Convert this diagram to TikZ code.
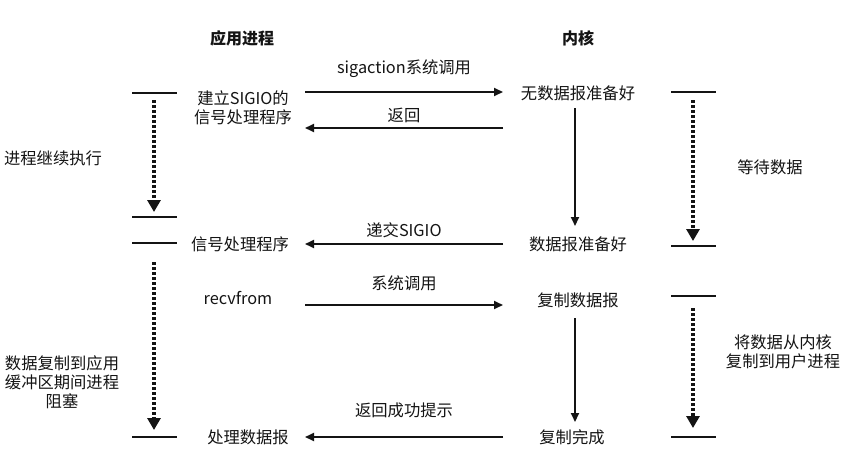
\documentclass[tikz,border=0pt]{standalone}
\usepackage{fontspec}
\setmainfont{Noto Sans CJK SC}
\usetikzlibrary{arrows.meta}
\definecolor{ink}{RGB}{20,20,20}
\tikzset{
  lbl/.style={font=\fontsize{16.3}{20}\selectfont, text=ink, inner sep=0pt, align=center},
  ttl/.style={font=\fontsize{16}{20}\selectfont\bfseries, text=ink, inner sep=0pt},
  msg/.style={draw=ink, line width=2pt, -{Triangle[length=9pt,width=8pt]}},
  wait/.style={draw=ink, line width=3.2pt, dash pattern=on 2.6pt off 2.4pt, -{Triangle[length=12pt,width=13pt]}},
  tick/.style={draw=ink, line width=2pt}
}
\begin{document}
\begin{tikzpicture}[x=1pt,y=-1pt]
\useasboundingbox[fill=white] (0,0) rectangle (849,471);
% titles
\node[ttl] (tapp) at (242,38) {应用进程};
\node[ttl] (tker) at (578,38) {内核};
% app column
\node[lbl] (setup) at (243,108) {建立SIGIO的\\[-1pt]信号处理程序};
\node[lbl] (sighand) at (240,244) {信号处理程序};
\node[lbl] (recv) at (238,298) {recvfrom};
\node[lbl] (proc) at (248,437) {处理数据报};
% kernel column
\node[lbl] (nodata) at (578,93) {无数据报准备好};
\node[lbl] (ready) at (578,244) {数据报准备好};
\node[lbl] (copy) at (578,300) {复制数据报};
\node[lbl] (done) at (572,437) {复制完成};
% side notes
\node[lbl] (cont) at (53,158) {进程继续执行};
\node[lbl] (block) at (62,382) {数据复制到应用\\[-1pt]缓冲区期间进程\\[-1pt]阻塞};
\node[lbl] (wait) at (770,167) {等待数据};
\node[lbl] (kcopy) at (783,352) {将数据从内核\\[-1pt]复制到用户进程};
% arrow endpoints
\coordinate (a1s) at (305,92);  \coordinate (a1e) at (503,92);
\coordinate (a2s) at (503,128); \coordinate (a2e) at (305,128);
\coordinate (a3s) at (503,244); \coordinate (a3e) at (305,244);
\coordinate (a4s) at (305,305); \coordinate (a4e) at (503,305);
\coordinate (a5s) at (503,437); \coordinate (a5e) at (305,437);
% messages
\draw[msg] (a1s) -- node[lbl, above=13pt] (l1) {sigaction系统调用} (a1e);
\draw[msg] (a2s) -- node[lbl, above=4pt] (l2) {返回} (a2e);
\draw[msg] (a3s) -- node[lbl, above=5pt] (l3) {递交SIGIO} (a3e);
\draw[msg] (a4s) -- node[lbl, above=13pt] (l4) {系统调用} (a4e);
\draw[msg] (a5s) -- node[lbl, above=18pt] (l5) {返回成功提示} (a5e);
% kernel internal arrows
\coordinate (k1s) at (575,108); \coordinate (k1e) at (575,226);
\coordinate (k2s) at (575,318); \coordinate (k2e) at (575,422);
\draw[msg] (k1s) -- (k1e);
\draw[msg] (k2s) -- (k2e);
% ticks left
\coordinate (tl1a) at (132,93);  \coordinate (tl1b) at (177,93);
\coordinate (tl2a) at (132,217); \coordinate (tl2b) at (177,217);
\coordinate (tl3a) at (132,243); \coordinate (tl3b) at (177,243);
\coordinate (tl4a) at (132,437); \coordinate (tl4b) at (177,437);
\draw[tick] (tl1a) -- (tl1b);
\draw[tick] (tl2a) -- (tl2b);
\draw[tick] (tl3a) -- (tl3b);
\draw[tick] (tl4a) -- (tl4b);
% ticks right
\coordinate (tr1a) at (671,92);  \coordinate (tr1b) at (716,92);
\coordinate (tr2a) at (671,246); \coordinate (tr2b) at (716,246);
\coordinate (tr3a) at (671,296); \coordinate (tr3b) at (716,296);
\coordinate (tr4a) at (671,437); \coordinate (tr4b) at (716,437);
\draw[tick] (tr1a) -- (tr1b);
\draw[tick] (tr2a) -- (tr2b);
\draw[tick] (tr3a) -- (tr3b);
\draw[tick] (tr4a) -- (tr4b);
% waiting arrows
\coordinate (w1s) at (154,100); \coordinate (w1e) at (154,212);
\coordinate (w2s) at (154,262); \coordinate (w2e) at (154,430);
\coordinate (w3s) at (693,100); \coordinate (w3e) at (693,241);
\coordinate (w4s) at (693,308); \coordinate (w4e) at (693,428);
\draw[wait] (w1s) -- (w1e);
\draw[wait] (w2s) -- (w2e);
\draw[wait] (w3s) -- (w3e);
\draw[wait] (w4s) -- (w4e);
\end{tikzpicture}
\end{document}
